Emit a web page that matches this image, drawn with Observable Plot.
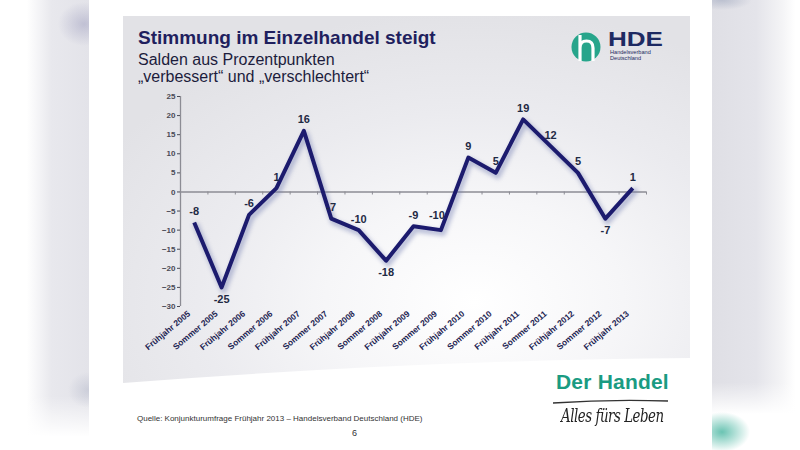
<!DOCTYPE html>
<html>
<head>
<meta charset="utf-8">
<script src="https://cdn.jsdelivr.net/npm/d3@7"></script>
<script src="https://cdn.jsdelivr.net/npm/@observablehq/plot@0.6"></script>
<style>
  body { margin: 0; background: #fff; }
  #stage { position: relative; width: 800px; height: 450px; overflow: hidden; background: #fff; font-family: "Liberation Sans", Arial, sans-serif; }
  .abs { position: absolute; }
  #leftband { left: 0; top: 0; width: 89px; height: 450px;
    background:
      radial-gradient(ellipse 26px 22px at 84px 24px, rgba(150,150,185,0.45), rgba(150,150,185,0) 100%),
      radial-gradient(ellipse 20px 18px at 88px 390px, rgba(170,175,195,0.4), rgba(170,175,195,0) 100%),
      linear-gradient(to bottom, rgba(255,255,255,0) 88%, #fff 97%),
      linear-gradient(to right, #fff 0%, #fff 30%, #e8e8ed 58%, #e3e3e9 100%); }
  #rightband { left: 712px; top: 0; width: 88px; height: 450px;
    background:
      radial-gradient(ellipse 28px 20px at 10px 432px, rgba(80,185,165,0.85), rgba(80,185,165,0) 100%),
      radial-gradient(ellipse 30px 10px at 10px 0px, rgba(150,160,185,0.5), rgba(150,160,185,0) 100%),
      linear-gradient(to bottom, rgba(255,255,255,0) 85%, #fff 92%),
      linear-gradient(to right, #dfdfe5 0%, #e4e4ea 50%, #f4f4f6 80%, #fff 95%); }
  #panel { left: 123px; top: 16px; width: 567px; height: 367px;
    background: radial-gradient(ellipse 75% 80% at 62% 78%, #ffffff 0%, #f6f6f8 35%, #ebebef 65%, #e2e2e6 100%);
    clip-path: path("M0 0 H567 V342 Q300 344 0 367 Z"); }
  #title { left: 138px; top: 27px; font-size: 19px; font-weight: bold; color: #1f1f5e; white-space: nowrap; }
  .sub { left: 138px; font-size: 16px; color: #1c1c3c; white-space: nowrap; }
  #chart { left: 0; top: 0; }
  #source { left: 137px; top: 414px; font-size: 8px; color: #333; white-space: nowrap; }
  #page { left: 352px; top: 428px; font-size: 9px; color: #333; }
  #derhandel { left: 556px; top: 370px; font-size: 21px; font-weight: bold; color: #1a9b82; white-space: nowrap; letter-spacing: 0.2px; }
  #alles { left: 561px; top: 405px; font-size: 18px; font-style: italic; color: #222; font-family: "DejaVu Serif", serif; white-space: nowrap; letter-spacing: -0.6px; transform: scaleX(0.74); transform-origin: left top; }
</style>
</head>
<body>
<div id="stage">
  <div id="leftband" class="abs"></div>
  <div id="rightband" class="abs"></div>
  <div id="panel" class="abs"></div>
  <div id="title" class="abs">Stimmung im Einzelhandel steigt</div>
  <div class="abs sub" style="top:51px">Salden aus Prozentpunkten</div>
  <div class="abs sub" style="top:68px">„verbessert“ und „verschlechtert“</div>
  <svg class="abs" style="left:0;top:0" width="800" height="450">
    <circle cx="586" cy="47" r="14.5" fill="#27a58b"/>
    <path d="M580 35 V61 M580 48 Q580 41 586.5 41 Q593 41 593 48 V61" fill="none" stroke="#fff" stroke-width="3.2"/>
    <text x="608" y="45.5" font-family="Liberation Sans, Arial, sans-serif" font-weight="bold" font-size="21" fill="#1e2a62" textLength="55" lengthAdjust="spacingAndGlyphs">HDE</text>
    <text x="610" y="53.5" font-family="Liberation Sans, Arial, sans-serif" font-size="5.6" fill="#1e2a62">Handelsverband</text>
    <text x="610" y="60" font-family="Liberation Sans, Arial, sans-serif" font-size="5.6" fill="#1e2a62">Deutschland</text>
    <path d="M553 403 Q610 399 668 401" fill="none" stroke="#333" stroke-width="1.3"/>
  </svg>
  <div id="chart" class="abs"></div>
  <div id="source" class="abs">Quelle: Konjunkturumfrage Frühjahr 2013 – Handelsverband Deutschland (HDE)</div>
  <div id="page" class="abs">6</div>
  <div id="derhandel" class="abs">Der Handel</div>
  <div id="alles" class="abs">Alles fürs Leben</div>
</div>
<script>
const categories = [
  "Frühjahr 2005", "Sommer 2005", "Frühjahr 2006", "Sommer 2006", "Frühjahr 2007",
  "Sommer 2007", "Frühjahr 2008", "Sommer 2008", "Frühjahr 2009", "Sommer 2009",
  "Frühjahr 2010", "Sommer 2010", "Frühjahr 2011", "Sommer 2011", "Frühjahr 2012",
  "Sommer 2012", "Frühjahr 2013"
];
const values = [-8, -25, -6, 1, 16, -7, -10, -18, -9, -10, 9, 5, 19, 12, 5, -7, 1];
const yTicks = [-30, -25, -20, -15, -10, -5, 0, 5, 10, 15, 20, 25];
const labelsBelow = ["Sommer 2005", "Sommer 2008", "Sommer 2012"];
const labelsAboveLeft = ["Sommer 2009"];

const data = categories.map((c, i) => ({i, category: c, value: values[i]}));
const boundaries = categories.map((c, i) => i + 0.5);
const above = data.filter(d => !labelsBelow.includes(d.category) && !labelsAboveLeft.includes(d.category));
const below = data.filter(d => labelsBelow.includes(d.category));
const aboveLeft = data.filter(d => labelsAboveLeft.includes(d.category));
const labelStyle = {x: "i", y: "value", text: d => String(d.value), fontSize: 11, fontWeight: "bold", fill: "#1f2a44"};

const plot = Plot.plot({
  width: 800,
  height: 450,
  marginLeft: 180,
  marginRight: 154,
  marginTop: 96,
  marginBottom: 144,
  style: {background: "transparent", overflow: "visible", fontFamily: "Liberation Sans, Arial, sans-serif"},
  x: {type: "linear", domain: [-0.5, categories.length - 0.5]},
  y: {domain: [-30, 25]},
  marks: [
    Plot.ruleX([-0.5], {y1: -30, y2: 25, stroke: "#8c8c94", strokeWidth: 1.3}),
    Plot.axisY({ticks: yTicks, tickSize: 3, tickPadding: 2, fontSize: 8, fontWeight: "bold", color: "#4a4a55", label: null}),
    Plot.axisX({anchor: "bottom", ticks: d3.range(categories.length), tickFormat: i => categories[i],
      tickSize: 0, tickPadding: 6, tickRotate: -40, dx: -5, fontSize: 8.5, fontWeight: "bold", color: "#1d2452", label: null}),
    Plot.ruleY([0], {stroke: "#8c8c94", strokeWidth: 1.5}),
    Plot.ruleX(boundaries, {x: d => d, y1: 0, y2: -0.8, stroke: "#8c8c94", strokeWidth: 1}),
    Plot.line(data, {x: "i", y: "value", stroke: "#6f79b0", strokeOpacity: 0.45, strokeWidth: 6, dx: 2, dy: 3, strokeLinejoin: "round"}),
    Plot.line(data, {x: "i", y: "value", stroke: "#1c1b6e", strokeWidth: 4, strokeLinejoin: "round", strokeLinecap: "butt"}),
    Plot.text(above, {...labelStyle, dy: -11}),
    Plot.text(aboveLeft, {...labelStyle, dy: -15, dx: -4}),
    Plot.text(below, {...labelStyle, dy: 12})
  ]
});
document.getElementById("chart").appendChild(plot);
const lines = plot.querySelectorAll('g[aria-label="line"]');
if (lines.length) lines[0].style.filter = "blur(2px)";
</script>
</body>
</html>
